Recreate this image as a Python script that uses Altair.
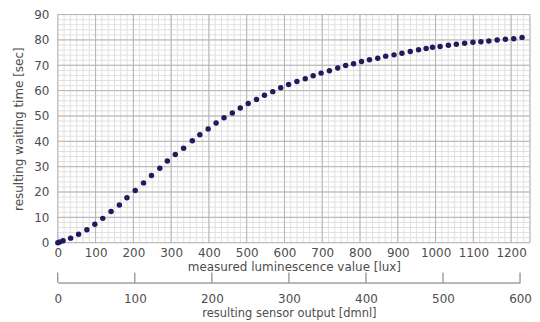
import altair as alt
import pandas as pd

# measured luminescence [lux] and resulting waiting time [sec]
lux = [0, 5, 14, 34, 55, 77, 98, 119, 141, 163, 183, 205, 227, 248, 270, 290,
       311, 333, 356, 376, 398, 419, 440, 462, 483, 504, 526, 547, 569, 590,
       611, 633, 655, 676, 697, 719, 741, 762, 783, 804, 825, 847, 868, 890,
       911, 933, 955, 975, 992, 1012, 1034, 1055, 1077, 1099, 1120, 1141,
       1163, 1185, 1207, 1229]
wait = [0.0, 0.3, 0.8, 1.8, 3.3, 5.1, 7.3, 9.6, 12.3, 14.9, 17.7, 20.6, 23.6,
        26.5, 29.4, 32.2, 34.8, 37.3, 40.2, 42.6, 44.9, 47.2, 49.3, 51.2,
        53.1, 54.9, 56.5, 58.2, 59.6, 61.1, 62.4, 63.6, 64.7, 65.9, 66.9,
        67.8, 68.9, 69.9, 70.6, 71.5, 72.2, 72.8, 73.6, 74.1, 74.7, 75.4,
        76.1, 76.6, 77.1, 77.4, 77.9, 78.3, 78.7, 79.1, 79.3, 79.6, 80.0,
        80.3, 80.5, 81.0]

x_labels = [0, 100, 200, 300, 400, 500, 600, 700, 800, 900, 1000, 1100, 1200]
y_labels = [0, 10, 20, 30, 40, 50, 60, 70, 80, 90]
sensor_labels = [0, 100, 200, 300, 400, 500, 600]

X_MAX = 1250
x_minor = [round(i * 100 / 6, 3) for i in range(0, 76)]
y_minor = [i * 2 for i in range(0, 46)]
x_major = x_labels + [X_MAX]

FONT = "DejaVu Sans"
TXT = "#4d4d4d"

xs = alt.Scale(domain=[0, X_MAX], nice=False, zero=False)
ys = alt.Scale(domain=[0, 90], nice=False)

x_axis = alt.Axis(values=x_labels, title="measured luminescence value [lux]",
                  format="d", domain=False, ticks=False, grid=False,
                  labelFlush=False, labelPadding=5, titlePadding=3)
y_axis = alt.Axis(values=y_labels, title="resulting waiting time [sec]",
                  domain=False, ticks=False, grid=False, labelPadding=9,
                  titlePadding=8)

def xenc(field):
    return alt.X(f"{field}:Q", scale=xs, axis=x_axis)

def yenc(field):
    return alt.Y(f"{field}:Q", scale=ys, axis=y_axis)

minor_x = alt.Chart(pd.DataFrame({"lux": x_minor})).mark_rule(
    color="#e0e0e0", strokeWidth=1).encode(x=xenc("lux"))
minor_y = alt.Chart(pd.DataFrame({"sec": y_minor})).mark_rule(
    color="#e0e0e0", strokeWidth=1).encode(y=yenc("sec"))
major_x = alt.Chart(pd.DataFrame({"lux": x_major})).mark_rule(
    color="#b4b4b4", strokeWidth=1).encode(x=xenc("lux"))
major_y = alt.Chart(pd.DataFrame({"sec": y_labels})).mark_rule(
    color="#b4b4b4", strokeWidth=1).encode(y=yenc("sec"))

points = alt.Chart(pd.DataFrame({"lux": lux, "sec": wait})).mark_circle(
    color="#1f1b5c", opacity=1, size=30).encode(x=xenc("lux"), y=yenc("sec"))

main = alt.layer(minor_x, minor_y, major_x, major_y, points).properties(
    width=474, height=229)

sensor = alt.Chart(pd.DataFrame({"s": sensor_labels})).mark_rule(
    color="#707070", strokeWidth=1).encode(
    x=alt.X("s:Q", scale=alt.Scale(domain=[0, 600], nice=False),
            axis=alt.Axis(values=sensor_labels,
                          title="resulting sensor output [dmnl]",
                          titleFontSize=11.5,
                          domain=True, domainColor="#707070", ticks=False,
                          grid=False, labelFlush=False, labelPadding=11,
                          titlePadding=3)),
    y=alt.value(0), y2=alt.value(10)).properties(width=464, height=10)

chart = alt.vconcat(main, sensor, spacing=-5).configure_view(
    stroke=None).configure_axis(
    labelFont=FONT, titleFont=FONT, labelFontSize=12, titleFontSize=12,
    labelColor=TXT, titleColor=TXT, titleFontWeight="normal").properties(
    padding={"left": 4, "top": 0, "right": 0, "bottom": 0})

chart.save("out.html", embed_options={"renderer": "svg", "actions": False})
